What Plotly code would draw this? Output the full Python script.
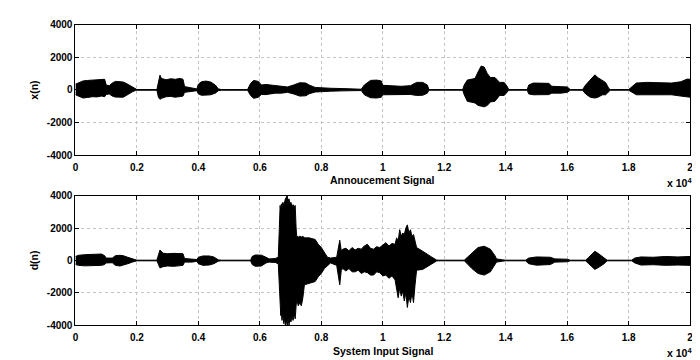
import plotly.graph_objects as go

# ---------------- data (sample index, envelope upper / lower) ----------------
x_pos = [0, 100, 250, 400, 550, 700, 850, 950, 1000, 1100, 1200, 1300, 1450, 1550, 1650, 1750, 1850, 1950, 2000,
         2650, 2700, 2750, 2800, 2950, 3100, 3250, 3400, 3500, 3550, 3700, 3850, 3950, 4000, 4100, 4250, 4400,
         4550, 4650, 4750, 5600, 5700, 5800, 5950, 6050, 6200, 6350, 6500, 6700, 6900, 7100, 7300, 7500, 7600,
         7800, 8000, 8300, 8700, 9000, 9300, 9400, 9600, 9800, 9950, 10000, 10300, 10600, 10900, 11100, 11300,
         11450, 11500, 12600, 12650, 12750, 12900, 13000, 13100, 13200, 13300, 13400, 13500, 13650, 13800, 13950,
         14050, 14100, 14700, 14750, 14900, 15200, 15400, 15500, 15800, 16000, 16100, 16500, 16600, 16750, 16900,
         17000, 17150, 17250, 17350, 17400, 18000, 18100, 18250, 18600, 19000, 19400, 19700, 19900, 20000]
x_upper = [350, 450, 550, 580, 600, 620, 680, 650, 300, 250, 420, 520, 500, 480, 400, 280, 150, 40, 20,
           20, 600, 900, 700, 620, 680, 650, 700, 650, 200, 150, 120, 60, 350, 500, 540, 480,
           300, 60, 20, 20, 400, 580, 520, 300, 330, 300, 250, 200, 180, 300, 440, 420, 300,
           150, 120, 100, 80, 50, 40, 300, 580, 600, 550, 280, 250, 220, 260, 460, 460,
           300, 20, 20, 300, 600, 660, 700, 1100, 1460, 1400, 1000, 760, 760, 460, 460,
           200, 20, 20, 300, 420, 420, 400, 220, 220, 180, 20, 20, 300, 600, 920,
           750, 560, 450, 100, 20, 20, 200, 420, 460, 440, 420, 500, 660, 650]
x_lower = [-300, -400, -500, -460, -420, -430, -380, -420, -280, -250, -380, -440, -420, -450, -350, -220, -120, -40, -20,
           -20, -450, -580, -520, -420, -400, -450, -400, -380, -150, -120, -100, -50, -250, -330, -320, -300,
           -200, -50, -20, -20, -350, -520, -450, -280, -290, -250, -200, -200, -150, -250, -380, -360, -240,
           -130, -100, -80, -60, -50, -40, -300, -480, -500, -450, -300, -280, -300, -280, -340, -330,
           -200, -20, -20, -300, -700, -740, -800, -950, -1000, -1040, -950, -740, -700, -340, -340,
           -150, -20, -20, -250, -300, -300, -290, -200, -200, -150, -20, -20, -250, -450, -500,
           -450, -300, -300, -80, -20, -20, -150, -300, -300, -320, -300, -380, -450, -450]

d_pos = [0, 100, 300, 500, 700, 850, 950, 1000, 1200, 1300, 1450, 1550, 1700, 1850, 1950, 2000,
         2650, 2700, 2750, 2850, 3000, 3200, 3400, 3500, 3550, 3800, 3950, 4000, 4150, 4350, 4500, 4650, 4750,
         5700, 5750, 5850, 6050, 6200, 6300, 6500, 6600,
         6630, 6660, 6680, 6700, 6720, 6750, 6780, 6800, 6830, 6860, 6890, 6920, 6950, 6980, 7010, 7050, 7080,
         7120, 7150, 7180, 7200, 7250, 7300, 7350, 7400, 7450, 7600, 7800, 7900, 8000, 8100, 8200, 8300, 8500,
         8600, 8650, 8700, 8800, 8900, 9000, 9100, 9200, 9300, 9400, 9500, 9600, 9700, 9800, 9900,
         10000, 10100, 10200, 10300, 10400, 10450, 10500, 10550, 10600, 10650, 10700, 10750, 10800, 10850,
         10900, 10950, 11000, 11050, 11100, 11300, 11500, 11600, 11750, 11800,
         12650, 12750, 12900, 13100, 13300, 13500, 13650, 13700, 13900, 14000, 14650, 14750, 15000, 15300,
         15450, 15600, 16000, 16100, 16600, 16700, 16900, 17000, 17200, 17300, 18100, 18200, 18400, 18800,
         19200, 19600, 20000]
d_upper = [250, 320, 360, 380, 420, 400, 300, 150, 150, 300, 320, 300, 200, 100, 30, 20,
           20, 400, 650, 450, 420, 440, 450, 420, 120, 100, 60, 200, 280, 280, 220, 40, 20,
           20, 250, 340, 330, 200, 100, 120, 200,
           1800, 3400, 3000, 3500, 3300, 3600, 3400, 3700, 3800, 3900, 4000, 3700, 3800, 3500, 3600, 3300, 3450,
           3300, 3400, 2000, 1500, 1450, 1500, 1450, 1500, 1400, 1400, 1300, 1000, 800, 500, 200, 150, 200,
           1250, 600, 700, 750, 600, 800, 650, 750, 700, 900, 1000, 750, 700, 850, 800,
           950, 1100, 900, 1050, 1000, 1400, 1200, 1900, 1500, 1700, 1600, 2000, 2200, 1700,
           1900, 1500, 1600, 1200, 800, 570, 300, 200, 30, 20,
           20, 200, 500, 800, 880, 700, 300, 100, 40, 20, 20, 150, 220, 220,
           200, 100, 80, 20, 20, 200, 570, 450, 200, 20, 20, 150, 220, 200,
           250, 220, 250]
d_lower = [-250, -300, -330, -320, -350, -300, -250, -150, -140, -300, -340, -300, -200, -100, -30, -20,
           -20, -300, -460, -380, -340, -360, -340, -300, -100, -100, -50, -200, -300, -280, -200, -40, -20,
           -20, -250, -360, -340, -150, -100, -120, -200,
           -1500, -3000, -3400, -3200, -3700, -3300, -3900, -3500, -4000, -3700, -4000, -3600, -4000, -3500, -3800, -3400, -3700,
           -3300, -3600, -2800, -2400, -2800, -2600, -2800, -2300, -1500, -1400, -1300, -1000, -800, -500, -350, -150, -300,
           -1500, -600, -500, -650, -500, -700, -700, -600, -800, -700, -750, -900, -900, -700, -750,
           -950, -900, -1100, -950, -1200, -1800, -2300, -1700, -2200, -1900, -2500, -2000, -2900, -2200,
           -2600, -2000, -2600, -1500, -600, -550, -300, -200, -30, -20,
           -20, -200, -500, -800, -900, -700, -300, -100, -40, -20, -20, -200, -290, -290,
           -250, -100, -80, -20, -20, -200, -550, -450, -200, -20, -20, -150, -280, -260,
           -300, -280, -300]

x_tickvals = [0, 2000, 4000, 6000, 8000, 10000, 12000, 14000, 16000, 18000, 20000]
x_ticktext = ['0', '0.2', '0.4', '0.6', '0.8', '1', '1.2', '1.4', '1.6', '1.8', '2']
y_tickvals = [-4000, -2000, 0, 2000, 4000]
y_ticktext = ['-4000', '-2000', '0', '2000', '4000']

# ---------------- figure ----------------
W, H = 700, 360
FONT = "Liberation Sans, Arial, sans-serif"

fig = go.Figure()
for pos, up, lo, xa, ya in [(x_pos, x_upper, x_lower, 'x', 'y'), (d_pos, d_upper, d_lower, 'x2', 'y2')]:
    fig.add_trace(go.Scatter(x=pos, y=up, mode='lines', line=dict(color='black', width=1),
                             xaxis=xa, yaxis=ya, showlegend=False, hoverinfo='skip'))
    fig.add_trace(go.Scatter(x=pos, y=lo, mode='lines', line=dict(color='black', width=1),
                             fill='tonexty', fillcolor='black',
                             xaxis=xa, yaxis=ya, showlegend=False, hoverinfo='skip'))

xdom = [65 / W, 685 / W]
top_dom = [1 - 146 / H, 1 - 11 / H]
bot_dom = [1 - 322 / H, 1 - 188 / H]

tickfont = dict(family=FONT, size=10, color='black', weight='bold')
axis_common = dict(showline=True, linecolor='black', linewidth=1, mirror='ticks',
                   ticks='inside', ticklen=4, tickcolor='black',
                   showgrid=True, gridcolor='#c4c4c4', gridwidth=1, griddash='dot',
                   zeroline=False, tickfont=tickfont)

fig.update_layout(
    width=W, height=H, autosize=False,
    margin=dict(l=0, r=0, t=0, b=0),
    paper_bgcolor='white', plot_bgcolor='white',
    font=dict(family=FONT, size=11, color='black'),
    xaxis=dict(domain=xdom, anchor='y', range=[0, 20000], tickmode='array',
               tickvals=x_tickvals, ticktext=x_ticktext, ticklabelstandoff=3, **axis_common),
    yaxis=dict(domain=top_dom, anchor='x', range=[-4000, 4000], tickmode='array',
               tickvals=y_tickvals, ticktext=y_ticktext, **axis_common),
    xaxis2=dict(domain=xdom, anchor='y2', range=[0, 20000], tickmode='array',
                tickvals=x_tickvals, ticktext=x_ticktext, ticklabelstandoff=3, **axis_common),
    yaxis2=dict(domain=bot_dom, anchor='x2', range=[-4000, 4000], tickmode='array',
                tickvals=y_tickvals, ticktext=y_ticktext, **axis_common),
)

ann = dict(xref='paper', yref='paper', showarrow=False, xanchor='center', yanchor='middle',
           font=dict(family=FONT, size=10.5, color='black', weight='bold'))
fig.add_annotation(text='x(n)', x=23 / W, y=1 - 78.5 / H, textangle=-90, **ann)
fig.add_annotation(text='d(n)', x=23 / W, y=1 - 255 / H, textangle=-90, **ann)
fig.add_annotation(text='Annoucement Signal', x=375 / W, y=1 - 172 / H, **ann)
fig.add_annotation(text='System Input Signal', x=375 / W, y=1 - 349 / H, **ann)
fig.add_annotation(text='x 10<sup>4</sup>', x=674 / W, y=1 - 174 / H, **ann)
fig.add_annotation(text='x 10<sup>4</sup>', x=674 / W, y=1 - 350 / H, **ann)

fig.write_html("out.html")
